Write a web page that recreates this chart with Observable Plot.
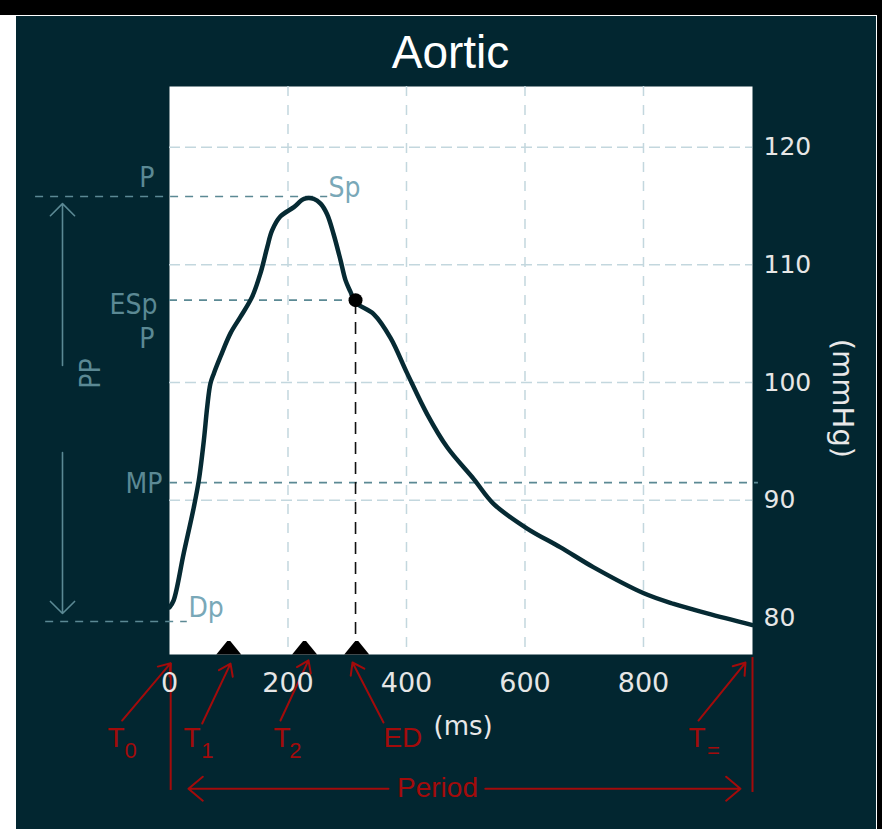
<!DOCTYPE html>
<html><head><meta charset="utf-8">
<script src="https://cdn.jsdelivr.net/npm/d3@7"></script>
<script src="https://cdn.jsdelivr.net/npm/@observablehq/plot@0.6"></script>
<style>
html,body{margin:0;padding:0;background:#fff;}
#wrap{position:relative;width:882px;height:829px;overflow:hidden;background:#fff;}
#topbar{position:absolute;left:0;top:0;width:882px;height:15px;background:#000;}
#panel{position:absolute;left:16px;top:16px;width:860px;height:813px;background:#022630;}
#rightbar{position:absolute;left:877px;top:0;width:5px;height:829px;background:#000;}
#chart{position:absolute;left:0;top:0;}
</style></head><body>
<div id="wrap"><div id="topbar"></div><div id="panel"></div><div id="rightbar"></div><div id="chart"></div></div>
<script>
// ---- data (ms, mmHg) ----
const timeMs   = [0,7,24,41,49.5,58,63.6,69,75,86,103,120,139.6,153.6,165,173,187,210,227,243.5,255,266,277,288.6,297,305.5,314,345,373,401,435,468.7,513.6,547,603.7,660,716,800.5,851,907.5,984];
const pressure = [80.9,81.5,85.5,89.4,91.7,95.1,97.9,99.9,100.8,102.2,104.2,105.6,107.3,109.3,111.5,112.9,114.1,114.9,115.6,115.6,115.2,114.3,112.6,110.4,108.7,107.7,106.8,105.8,103.8,100.8,97.3,94.5,91.8,89.7,87.6,86.0,84.3,82.1,81.2,80.4,79.4];
const xTicks = [0,200,400,600,800];
const yTicks = [80,90,100,110,120];
const gridX = [200,400,600,800];
const gridY = [90,100,110,120];
const periodMs = 984;
const spValue = 115.8;
const espTime = 314, espValue = 107.0;
const mpValue = 91.5;
const dpValue = 79.7;
const markerTimes = [100, 228, 316]; // T1, T2, ED
const xDomain = [0, periodMs];
const yDomain = [76.9, 125.15];

// ---- annotation geometry (data units) ----
const refLines = [
  {p: spValue, t1: -226, t2: 267},
  {p: espValue, t1: 0, t2: espTime},
  {p: mpValue, t1: 0, t2: 994},
  {p: dpValue, t1: -209, t2: 30}
];
const darkLabels = [
  {text: "P", t: -25.3, p: 116.58},
  {text: "ESp", t: -20.3, p: 105.85},
  {text: "P", t: -25.3, p: 102.9},
  {text: "MP", t: -11.8, p: 90.6}
];
const lightLabels = [
  {text: "Sp", t: 268.4, p: 115.75},
  {text: "Dp", t: 32, p: 80.07}
];
const ppArrows = [
  {t: -180.6, p1: 101.45, p2: 115.2},
  {t: -180.6, p1: 94.06, p2: 80.38}
];
const ppLabel = [{text: "PP", t: -131.6, p: 100.77}];
const redArrows = [
  {t1: -80, p1: 71.29, t2: 2, p2: 76.16},
  {t1: 55.2, p1: 71.04, t2: 103, p2: 76.13},
  {t1: 187.3, p1: 71.29, t2: 234.6, p2: 76.4},
  {t1: 361.2, p1: 71.12, t2: 308.9, p2: 76.22},
  {t1: 892.8, p1: 71.29, t2: 972.2, p2: 76.22}
];
const redRules = [
  {t: 2, p1: 76.13, p2: 65.35},
  {t: periodMs, p1: 76.64, p2: 65.18}
];
const periodArrows = [
  {t1: 369.6, t2: 32, p: 65.5},
  {t1: 533, t2: 963.7, p: 65.5}
];
const redMain = [
  {text: "T", t: -104.6, p: 69.0},
  {text: "T", t: 23.6, p: 69.0},
  {text: "T", t: 175.5, p: 69.0},
  {text: "ED", t: 361, p: 69.0},
  {text: "T", t: 876, p: 69.0}
];
const redSub = [
  {text: "0", t: -76, p: 68.15},
  {text: "1", t: 53.5, p: 68.15},
  {text: "2", t: 202, p: 68.15},
  {text: "=", t: 907, p: 68.15}
];
const periodLabel = [{text: "Period", t: 452.3, p: 64.76}];
const unitX = [{text: "(ms)", t: 445.6, p: 70.1}];
const unitY = [{text: "(mmHg)", t: 1135, p: 98.65}];

const curve = timeMs.map((t, i) => ({t, p: pressure[i]}));

const red = "#a30b0b";
const teal = "#5b8994";
const tealLight = "#79a8b8";
const annFont = "'Liberation Sans Narrow', 'DejaVu Sans Condensed', 'Liberation Sans', sans-serif";
const tri = {draw(ctx){ctx.moveTo(-12.5,0);ctx.lineTo(-1.5,-13.5);ctx.lineTo(1.5,-13.5);ctx.lineTo(12.5,0);ctx.closePath();}};

const chart = Plot.plot({
  width: 882, height: 829,
  marginTop: 86, marginBottom: 175, marginLeft: 169, marginRight: 130,
  x: {domain: xDomain},
  y: {domain: yDomain},
  style: {background: "transparent", overflow: "visible", fontFamily: "DejaVu Sans", color: "#e4e4e4"},
  marks: [
    Plot.frame({fill: "white", stroke: null}),
    Plot.ruleX(gridX, {stroke: "#c3d7de", strokeWidth: 1.5, strokeDasharray: "10,9"}),
    Plot.ruleY(gridY, {stroke: "#c3d7de", strokeWidth: 1.5, strokeDasharray: "11,5"}),
    Plot.ruleY(refLines, {y: "p", x1: "t1", x2: "t2", stroke: teal, strokeWidth: 1.6, strokeDasharray: "8,7"}),
    Plot.ruleX([{t: espTime, p1: yDomain[0], p2: espValue}], {x: "t", y1: "p1", y2: "p2", stroke: "#111", strokeWidth: 1.6, strokeDasharray: "12,8"}),
    Plot.line(curve, {x: "t", y: "p", stroke: "#062a33", strokeWidth: 4.5, curve: "catmull-rom"}),
    Plot.dot([{t: espTime, p: espValue}], {x: "t", y: "p", r: 7, fill: "black"}),
    Plot.dot(markerTimes, {x: d => d, y: () => yDomain[0], symbol: tri, r: 5, fill: "black"}),
    Plot.text(darkLabels, {x: "t", y: "p", text: "text", textAnchor: "end", lineAnchor: "bottom", fill: teal, fontSize: 28, fontFamily: annFont}),
    Plot.text(lightLabels, {x: "t", y: "p", text: "text", textAnchor: "start", lineAnchor: "bottom", fill: tealLight, fontSize: 28, fontFamily: annFont}),
    Plot.arrow(ppArrows, {x1: "t", x2: "t", y1: "p1", y2: "p2", stroke: teal, strokeWidth: 1.6, headLength: 16, headAngle: 90}),
    Plot.text(ppLabel, {x: "t", y: "p", text: "text", rotate: -90, fill: teal, fontSize: 28, fontFamily: annFont}),
    Plot.arrow(redArrows, {x1: "t1", y1: "p1", x2: "t2", y2: "p2", stroke: red, strokeWidth: 2, headLength: 10, headAngle: 70}),
    Plot.ruleX(redRules, {x: "t", y1: "p1", y2: "p2", stroke: red, strokeWidth: 2}),
    Plot.arrow(periodArrows, {x1: "t1", x2: "t2", y1: "p", y2: "p", stroke: red, strokeWidth: 2, headLength: 14, headAngle: 80}),
    Plot.text(redMain, {x: "t", y: "p", text: "text", textAnchor: "start", lineAnchor: "bottom", fill: red, fontSize: 28, fontFamily: "'Liberation Sans', sans-serif"}),
    Plot.text(redSub, {x: "t", y: "p", text: "text", textAnchor: "start", lineAnchor: "bottom", fill: red, fontSize: 22, fontFamily: "'Liberation Sans', sans-serif"}),
    Plot.text(periodLabel, {x: "t", y: "p", text: "text", textAnchor: "middle", lineAnchor: "bottom", fill: red, fontSize: 28, fontFamily: "'Liberation Sans', sans-serif"}),
    Plot.text(unitX, {x: "t", y: "p", text: "text", textAnchor: "start", lineAnchor: "bottom", fill: "#e8e8e8", fontSize: 26, fontFamily: "DejaVu Sans"}),
    Plot.text(unitY, {x: "t", y: "p", text: "text", rotate: 90, fill: "#e8e8e8", fontSize: 29, fontFamily: "DejaVu Sans"}),
    Plot.text(["Aortic"], {frameAnchor: "top", dx: -10.5, dy: -19, lineAnchor: "bottom", fill: "white", fontSize: 46, fontFamily: "'Liberation Sans', sans-serif"}),
    Plot.axisX(xTicks, {tickSize: 0, tickPadding: 18, label: null, color: "#e6e6e6", fontSize: 27, fontFamily: "DejaVu Sans"}),
    Plot.axisY(yTicks, {anchor: "right", tickSize: 0, tickPadding: 11, label: null, color: "#e6e6e6", fontSize: 25, fontFamily: "DejaVu Sans"})
  ]
});
document.getElementById("chart").appendChild(chart);
</script>
</body></html>
